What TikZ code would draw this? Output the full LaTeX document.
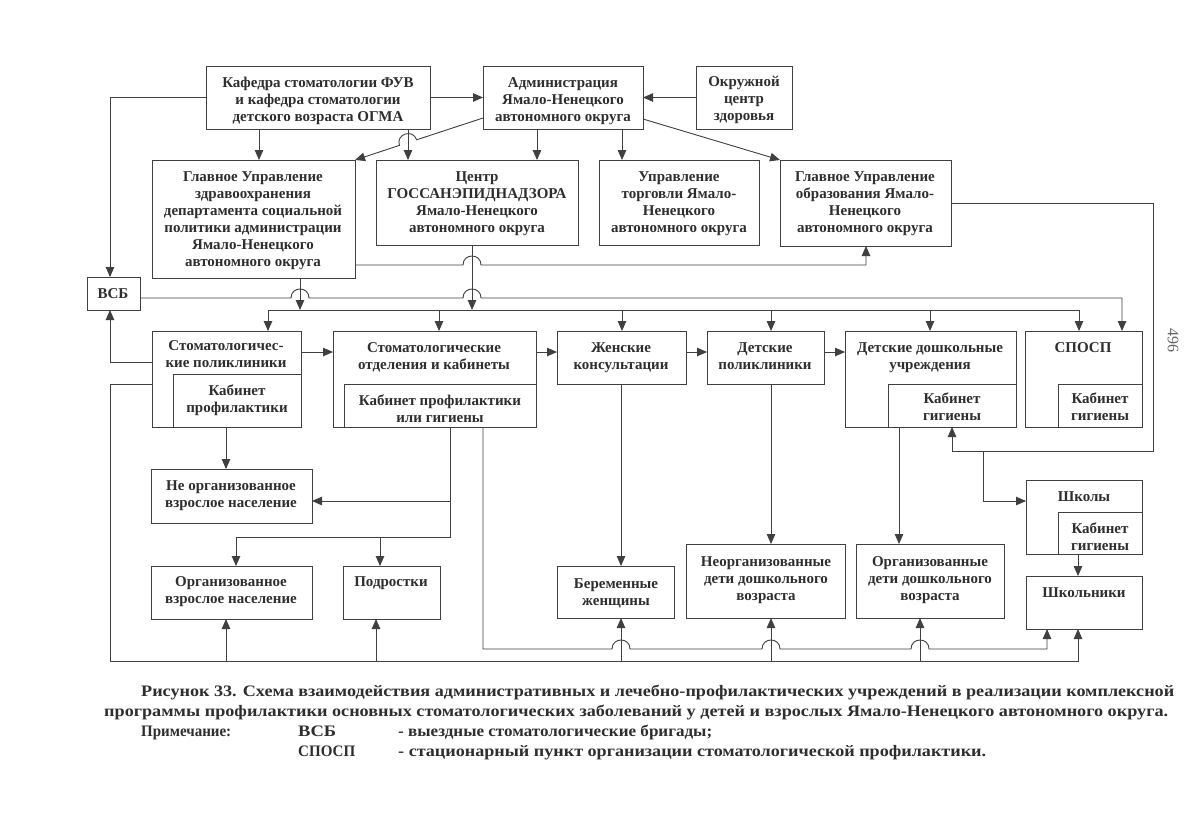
\documentclass[tikz,border=0pt]{standalone}
\usepackage{fontspec}
\setmainfont{Liberation Serif}
\usetikzlibrary{arrows.meta}
\definecolor{ink}{HTML}{2E2E2E}
\definecolor{linec}{HTML}{404040}
\newcommand{\tl}[1]{\begin{tabular}[t]{@{}c@{}}#1\end{tabular}}
\newcommand{\bx}[5]{\node[boxs, minimum width={#4-#2}, minimum height={#5-#3}, anchor=north west] (#1) at (#2,#3) {};}
% hop over a vertical line at x=#1 on a horizontal line at y=#2 (travelling left to right)
\newcommand{\hp}[2]{-- ({#1-9},#2) .. controls ({#1-9},{#2-12}) and ({#1+9},{#2-12}) .. ({#1+9},#2)}
\tikzset{
  boxs/.style={draw=linec, line width=0.95pt, inner sep=0pt, outer sep=0pt},
  lbl/.style={inner sep=0pt, anchor=base, text=ink, font=\bfseries\fontsize{15}{17}\selectfont},
  ln/.style={draw=linec, line width=0.9pt},
  tip/.tip={Triangle[length=10pt,width=8.5pt]},
  arr/.style={ln, -tip},
  captxt/.style={inner sep=0pt, anchor=base west, text=ink, font=\bfseries\fontsize{16}{20}\selectfont},
}
\begin{document}
\begin{tikzpicture}[x=1pt,y=-1pt]
\useasboundingbox (0,0) rectangle (1204,828);
\fill[white] (0,0) rectangle (1204,828);

% ---------- boxes ----------
\bx{kaf}{206}{66}{430}{129}
\bx{adm}{483}{66}{643}{129}
\bx{okr}{696}{66}{792}{129}
\bx{gz}{152}{160}{355}{278}
\bx{gsen}{376}{160}{578}{245}
\bx{torg}{599}{160}{759}{245}
\bx{obr}{780}{160}{951}{246}
\bx{vsb}{87}{277}{140}{310}
\bx{sp}{152}{331}{301}{427}
\bx{kp}{173}{374}{301}{427}
\bx{so}{333}{331}{536}{427}
\bx{kpg}{344}{384}{536}{427}
\bx{zk}{557}{331}{686}{384}
\bx{dp}{707}{331}{824}{384}
\bx{dd}{845}{331}{1016}{427}
\bx{kg1}{888}{384}{1016}{427}
\bx{sposp}{1025}{331}{1142}{427}
\bx{kg2}{1058}{384}{1142}{427}
\bx{nov}{151}{469}{312}{523}
\bx{ov}{151}{566}{312}{619}
\bx{pod}{343}{566}{440}{619}
\bx{ber}{557}{566}{674}{618}
\bx{nd}{686}{544}{845}{618}
\bx{od}{856}{544}{1004}{618}
\bx{shk}{1026}{480}{1142}{554}
\bx{kg3}{1058}{512}{1142}{554}
\bx{shn}{1026}{576}{1142}{629}

% ---------- texts ----------
\node[lbl] (l-kaf) at (318,87) {\tl{Кафедра стоматологии ФУВ\\и кафедра стоматологии\\детского возраста ОГМА}};
\node[lbl] (l-adm) at (563,87) {\tl{Администрация\\Ямало-Ненецкого\\автономного округа}};
\node[lbl] (l-okr) at (744,86) {\tl{Окружной\\центр\\здоровья}};
\node[lbl] (l-gz) at (253,181) {\tl{Главное Управление\\здравоохранения\\департамента социальной\\политики администрации\\Ямало-Ненецкого\\автономного округа}};
\node[lbl] (l-gsen) at (477,181) {\tl{Центр\\ГОССАНЭПИДНАДЗОРА\\Ямало-Ненецкого\\автономного округа}};
\node[lbl] (l-torg) at (679,181) {\tl{Управление\\торговли Ямало-\\Ненецкого\\автономного округа}};
\node[lbl] (l-obr) at (865,181) {\tl{Главное Управление\\образования Ямало-\\Ненецкого\\автономного округа}};
\node[lbl] (l-vsb) at (113,298) {ВСБ};
\node[lbl] (l-sp) at (226,350) {\tl{Стоматологичес-\\кие поликлиники}};
\node[lbl] (l-kp) at (237,395) {\tl{Кабинет\\профилактики}};
\node[lbl] (l-so) at (434,352) {\tl{Стоматологические\\отделения и кабинеты}};
\node[lbl] (l-kpg) at (440,405) {\tl{Кабинет профилактики\\или гигиены}};
\node[lbl] (l-zk) at (621,352) {\tl{Женские\\консультации}};
\node[lbl] (l-dp) at (765,352) {\tl{Детские\\поликлиники}};
\node[lbl] (l-dd) at (930,352) {\tl{Детские дошкольные\\учреждения}};
\node[lbl] (l-kg1) at (952,403) {\tl{Кабинет\\гигиены}};
\node[lbl] (l-sposp) at (1083,352) {СПОСП};
\node[lbl] (l-kg2) at (1100,403) {\tl{Кабинет\\гигиены}};
\node[lbl] (l-nov) at (231,490) {\tl{Не организованное\\взрослое население}};
\node[lbl] (l-ov) at (231,586) {\tl{Организованное\\взрослое население}};
\node[lbl] (l-pod) at (391,586) {Подростки};
\node[lbl] (l-ber) at (616,588) {\tl{Беременные\\женщины}};
\node[lbl] (l-nd) at (766,566) {\tl{Неорганизованные\\дети дошкольного\\возраста}};
\node[lbl] (l-od) at (930,566) {\tl{Организованные\\дети дошкольного\\возраста}};
\node[lbl] (l-shk) at (1084,501) {Школы};
\node[lbl] (l-kg3) at (1100,533) {\tl{Кабинет\\гигиены}};
\node[lbl] (l-shn) at (1084,597) {Школьники};

\node[text=black!60, font=\fontsize{16}{16}\selectfont, rotate=-90, inner sep=0pt] (pg) at (1173,340) {496};

% ---------- connectors: top ----------
\draw[arr] (kaf.east) -- (adm.west);
\draw[arr] (okr.west) -- (adm.east);
\draw[arr] (kaf.west) -- (110,97.5) -- (110,0 |- vsb.north);
\draw[arr] (259,0 |- kaf.south) -- (259,0 |- gz.north);
\draw[arr] (408,0 |- kaf.south) -- (408,0 |- gsen.north);
\draw[arr] (adm.south west |- 0,118) -- (416.6,139.8) .. controls (412.9,128.4) and (395.7,134.0) .. (399.4,145.4) -- (gz.north east);
\draw[arr] (537,0 |- adm.south) -- (537,0 |- gsen.north);
\draw[arr] (622,0 |- adm.south) -- (622,0 |- torg.north);
\draw[arr] (adm.south east |- 0,119) -- (obr.north west);

% gz -> obr
\draw[arr] (gz.east |- 0,265) \hp{472}{265} -- (866,265) -- (866,0 |- obr.south);
% verticals to the bus
\draw[arr] (300,0 |- gz.south) -- (300,310);
\draw[arr] (472,0 |- gsen.south) -- (472,310);
% VSB line
\draw[arr] (vsb.east |- 0,298) \hp{300}{298} \hp{472}{298} -- (1122,298) -- (1122,0 |- sposp.north);
% bus
\draw[ln, tip-tip] (268,0 |- sp.north) -- (268,310) -- (1079,310) -- (1079,0 |- sposp.north);
\draw[arr] (439,310) -- (439,0 |- so.north);
\draw[arr] (622,310) -- (622,0 |- zk.north);
\draw[arr] (771,310) -- (771,0 |- dp.north);
\draw[arr] (930,310) -- (930,0 |- dd.north);

% row arrows
\draw[arr] (sp.east |- 0,352) -- (so.west |- 0,352);
\draw[arr] (so.east |- 0,352) -- (zk.west |- 0,352);
\draw[arr] (zk.east |- 0,352) -- (dp.west |- 0,352);
\draw[arr] (dp.east |- 0,352) -- (dd.west |- 0,352);

% sp -> vsb
\draw[arr] (sp.west |- 0,362) -- (110,362) -- (110,0 |- vsb.south);
% sp -> bottom bus
\draw[arr] (sp.west |- 0,384) -- (110,384) -- (110,661) -- (1078,661) -- (1078,0 |- shn.south);
\draw[arr] (226,661) -- (226,0 |- ov.south);
\draw[arr] (376,661) -- (376,0 |- pod.south);
\draw[arr] (621,661) -- (621,0 |- ber.south);
\draw[arr] (771,661) -- (771,0 |- nd.south);
\draw[arr] (920,661) -- (920,0 |- od.south);

% sp -> nov
\draw[arr] (226,0 |- sp.south) -- (226,0 |- nov.north);
% kpg -> nov, ov, pod
\draw[arr] (450,0 |- kpg.south) -- (450,537) -- (236,537) -- (236,0 |- ov.north);
\draw[arr] (450,501) -- (nov.east |- 0,501);
\draw[arr] (380,537) -- (380,0 |- pod.north);
% kpg -> shn
\draw[arr] (483,0 |- kpg.south) -- (483,649) \hp{621}{649} \hp{771}{649} \hp{920}{649} -- (1047,649) -- (1047,0 |- shn.south);

% verticals down
\draw[arr] (621,0 |- zk.south) -- (621,0 |- ber.north);
\draw[arr] (771,0 |- dp.south) -- (771,0 |- nd.north);
\draw[arr] (899,0 |- dd.south) -- (899,0 |- od.north);

% obr -> kg1 and schools
\draw[arr] (obr.east |- 0,203) -- (1153,203) -- (1153,451) -- (952,451) -- (952,0 |- kg1.south);
\draw[arr] (983,451) -- (983,501) -- (shk.west |- 0,501);
\draw[arr] (1078,0 |- shk.south) -- (1078,0 |- shn.north);

% ---------- caption ----------
\node[captxt] (c1) at (141,696) {\resizebox{1033pt}{\height}{Рисунок 33. Схема взаимодействия административных и лечебно-профилактических учреждений в реализации комплексной}};
\node[captxt] (c2) at (104,716) {\resizebox{1064pt}{\height}{программы профилактики основных стоматологических заболеваний у детей и взрослых Ямало-Ненецкого автономного округа.}};
\node[captxt] (c3a) at (141,736) {\resizebox{90pt}{\height}{Примечание:}};
\node[captxt] (c3b) at (298,736) {\resizebox{38pt}{\height}{ВСБ}};
\node[captxt] (c3c) at (398,736) {\resizebox{314pt}{\height}{- выездные стоматологические бригады;}};
\node[captxt] (c4b) at (298,756) {\resizebox{57pt}{\height}{СПОСП}};
\node[captxt] (c4c) at (398,756) {\resizebox{588pt}{\height}{- стационарный пункт организации стоматологической профилактики.}};
\end{tikzpicture}
\end{document}
